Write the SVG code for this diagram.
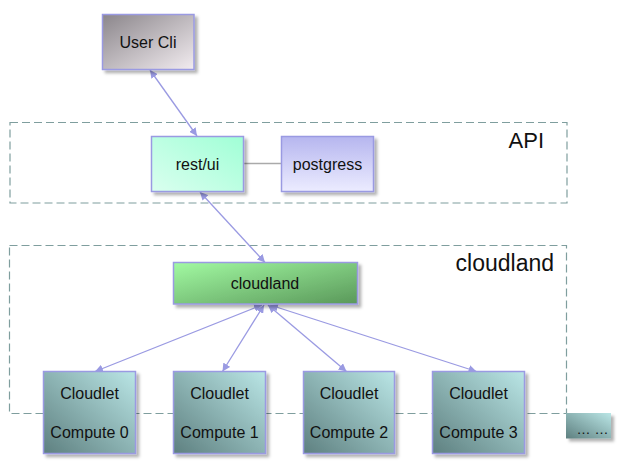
<svg xmlns="http://www.w3.org/2000/svg" width="622" height="472" viewBox="0 0 622 472">
<defs>
<style>
.box{stroke:#9a9ae2;stroke-width:1.5;filter:url(#sh)}
.t{font-family:"Liberation Sans",Arial,sans-serif;font-size:16px;fill:#111;text-anchor:middle}
.big{font-family:"Liberation Sans",Arial,sans-serif;font-size:23px;fill:#111;text-anchor:end}
.grp{fill:none;stroke:#7f9e9e;stroke-width:1.2;stroke-dasharray:8,4}
.c{stroke:#9a9ae2;stroke-width:1.3;fill:none;marker-start:url(#ah);marker-end:url(#ah)}
</style>
<filter id="sh" x="-20%" y="-20%" width="140%" height="150%">
<feDropShadow dx="3" dy="3" stdDeviation="1.5" flood-color="#000" flood-opacity="0.3"/>
</filter>
<marker id="ah" viewBox="0 0 10 10" refX="10" refY="5" markerWidth="8" markerHeight="8" markerUnits="userSpaceOnUse" orient="auto-start-reverse">
<path d="M0,0 L10,5 L0,10 z" fill="#9a9ae2"/>
</marker>
<linearGradient id="gUser" x1="0" y1="0" x2="1" y2="1">
<stop offset="0" stop-color="#8b868b"/><stop offset="1" stop-color="#f2ecf0"/>
</linearGradient>
<linearGradient id="gRest" x1="1" y1="0" x2="0" y2="1">
<stop offset="0" stop-color="#a0ffd6"/><stop offset="1" stop-color="#daffef"/>
</linearGradient>
<linearGradient id="gPg" x1="0" y1="0" x2="0" y2="1">
<stop offset="0" stop-color="#b6b6ef"/><stop offset="1" stop-color="#ececff"/>
</linearGradient>
<linearGradient id="gCl" x1="0" y1="0" x2="1" y2="1">
<stop offset="0" stop-color="#a2faa2"/><stop offset="1" stop-color="#5a985a"/>
</linearGradient>
<linearGradient id="gCt" x1="1" y1="0" x2="0" y2="1">
<stop offset="0" stop-color="#bae6e6"/><stop offset="1" stop-color="#5e8080"/>
</linearGradient>
</defs>
<rect width="622" height="472" fill="#fff"/>

<g id="group-api">
<rect class="grp" x="10" y="122.5" width="557" height="80.5"/>
<text class="big" x="544" y="148" style="font-size:22px">API</text>
</g>
<g id="group-cloudland">
<rect class="grp" x="9.5" y="245.5" width="557" height="168"/>
<text class="big" x="554" y="271">cloudland</text>
</g>

<g id="connectors">
<line x1="243" y1="163.5" x2="281" y2="163.5" stroke="#aaaaaa" stroke-width="1.3"/>
<line class="c" x1="150" y1="70" x2="197" y2="136"/>
<line class="c" x1="200" y1="192" x2="265" y2="262.5"/>
<line class="c" x1="262" y1="305" x2="95" y2="371.5"/>
<line class="c" x1="264" y1="305" x2="222.5" y2="371.5"/>
<line class="c" x1="268" y1="305" x2="346.5" y2="371.5"/>
<line class="c" x1="270" y1="305" x2="476.5" y2="371.5"/>
</g>

<g id="user-cli">
<rect class="box" x="102.5" y="14.5" width="91.5" height="55" fill="url(#gUser)"/>
<text class="t" x="148" y="47.5">User Cli</text>
</g>
<g id="rest-ui">
<rect class="box" x="151.5" y="136.5" width="92" height="55" fill="url(#gRest)"/>
<text class="t" x="197.5" y="169.5">rest/ui</text>
</g>
<g id="postgress">
<rect class="box" x="281.5" y="136.5" width="92" height="55" fill="url(#gPg)"/>
<text class="t" x="327.5" y="169.5">postgress</text>
</g>
<g id="cloudland">
<rect class="box" x="173.5" y="262.5" width="184" height="41.5" fill="url(#gCl)"/>
<text class="t" x="265" y="289">cloudland</text>
</g>
<g id="compute0">
<rect class="box" x="43.5" y="371.5" width="92" height="82" fill="url(#gCt)"/>
<text class="t" x="89.5" y="399">Cloudlet</text>
<text class="t" x="89.5" y="438">Compute 0</text>
</g>
<g id="compute1">
<rect class="box" x="173.5" y="371.5" width="92" height="82" fill="url(#gCt)"/>
<text class="t" x="219.5" y="399">Cloudlet</text>
<text class="t" x="219.5" y="438">Compute 1</text>
</g>
<g id="compute2">
<rect class="box" x="303.5" y="371.5" width="91" height="82" fill="url(#gCt)"/>
<text class="t" x="349" y="399">Cloudlet</text>
<text class="t" x="349" y="438">Compute 2</text>
</g>
<g id="compute3">
<rect class="box" x="432.5" y="371.5" width="92" height="82" fill="url(#gCt)"/>
<text class="t" x="478.5" y="399">Cloudlet</text>
<text class="t" x="478.5" y="438">Compute 3</text>
</g>
<g id="more">
<rect x="566" y="413" width="45" height="25.5" fill="url(#gCt)" filter="url(#sh)"/>
<text class="t" x="592.5" y="434" style="font-size:14px">… …</text>
</g>
</svg>
